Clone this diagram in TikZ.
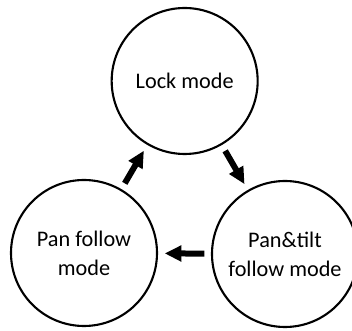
\documentclass[tikz,border=0pt]{standalone}
\usepackage{fontspec}
\setmainfont{Carlito}
\usetikzlibrary{arrows.meta}

\tikzset{
  mode/.style={draw, circle, line width=1.8pt, minimum size=4.38cm, inner sep=0pt,
               align=center, font=\fontsize{19}{25}\selectfont},
  trans/.style={-{Triangle[length=0.5cm, width=0.46cm]}, line width=0.18cm,
                shorten <=0.2cm, shorten >=0.2cm}
}

\begin{document}
\begin{tikzpicture}[scale=1]
%\draw [lightgray](0,0) grid (10,10);
\useasboundingbox (0,0) rectangle (10.56, 9.93);

% the three modes
\node [mode] (lock) at (5.54, 7.50) {Lock mode};
\node [mode] (panfollow) at (2.52, 2.34) {Pan follow\\mode};
\node [mode] (pantilt) at (8.55, 2.31) {Pan\&tilt\\follow mode};

% switching order
\draw [trans] (lock) -- (pantilt);
\draw [trans] (pantilt) -- (panfollow);
\draw [trans] (panfollow) -- (lock);

\end{tikzpicture}
\end{document}
